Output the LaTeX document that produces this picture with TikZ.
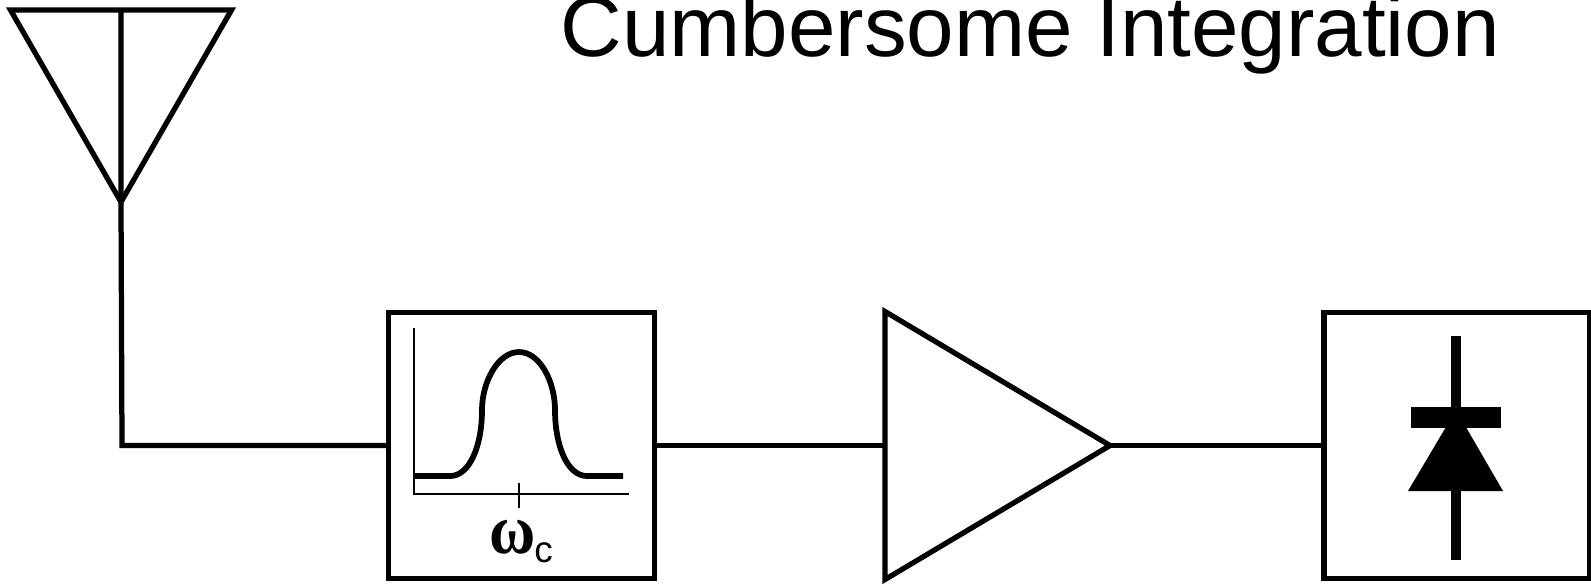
\documentclass[tikz,border=0pt]{standalone}
\usepackage{fontspec}
\setmainfont{Liberation Sans}
\newfontfamily\omegafont{Liberation Serif}[BoldFont={Liberation Serif Bold}]
\usetikzlibrary{positioning,shapes.geometric}
\tikzset{
  rf-block/.style={draw=black, fill=white, line width=0.105cm, minimum width=5.32cm, minimum height=5.32cm,
    inner sep=0pt, outer sep=0pt},
  rf-triangle/.style={draw=black, line width=0.105cm, shape=isosceles triangle, isosceles triangle stretches,
    inner sep=0pt, outer sep=0pt},
  rf-wire/.style={draw=black, line width=0.105cm},
  rf-thin/.style={draw=black, line width=0.045cm},
  rf-title/.style={font=\fontsize{48.6pt}{55pt}\selectfont, inner sep=0pt}
}

\begin{document}
\begin{tikzpicture}[x=0.02cm, y=-0.02cm]
  \useasboundingbox (0,0) rectangle (1591,586);
  \clip (0,0) rectangle (1591,586);
  \node[rf-title, anchor=base west] (title) at (560,56) {Cumbersome Integration};
  % signal chain
  \node[rf-triangle, shape border rotate=-90, minimum width=4.42cm, minimum height=3.84cm, anchor=apex] (antenna) at (121,202) {};
  \node[rf-block] (filter) at (521.5,445.5) {};
  \node[rf-triangle, shape border rotate=0, minimum width=5.36cm, minimum height=4.5cm, anchor=apex] (amp) at (1110,445.5) {};
  \node[rf-block] (detector) at (1457,445.5) {};
  \coordinate (bend) at (122,445.5);
  \draw[rf-wire] (antenna.lower side) -- (antenna.apex) -- (bend) -- (filter.west);
  \draw[rf-wire] (filter.east) -- (amp.lower side);
  \draw[rf-wire] (amp.apex) -- (detector.west);
  % filter response
  \draw[rf-thin] (414,328) -- (414,494) -- (629,494);
  \draw[rf-thin] (519,483) -- (519,508);
  \draw[rf-wire, line width=0.115cm] (414,476) -- (450,476)
    .. controls (470,476) and (482,445) .. (482,410)
    .. controls (482,382) and (498,352) .. (519,352)
    .. controls (540,352) and (555,382) .. (555,410)
    .. controls (555,445) and (567,476) .. (587,476) -- (623,476);
  \node[anchor=base, inner sep=0pt, yscale=1.12] (omega) at (513,553) {\omegafont\bfseries\fontsize{36pt}{40pt}\selectfont ω};
  \node[anchor=base west, inner sep=0pt, font=\fontsize{21pt}{24pt}\selectfont] (omega-sub) at (534,562) {c};
  % diode
  \fill[black] (1456,410) -- (1503,491) -- (1408,491) -- cycle;
  \fill[black] (1411,407) rectangle (1501,428);
  \fill[black] (1451,336) rectangle (1461,560);
\end{tikzpicture}
\end{document}
